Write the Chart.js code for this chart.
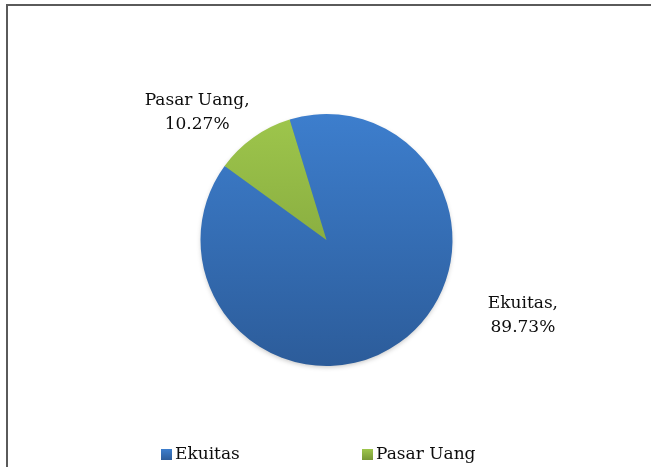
<!DOCTYPE html>
<html>
<head>
<meta charset="utf-8">
<script src="https://cdn.jsdelivr.net/npm/chart.js@4/dist/chart.umd.min.js"></script>
<style>
  html, body { margin: 0; padding: 0; background: #fff; }
  #wrap { position: relative; width: 651px; height: 467px; overflow: hidden; }
  #frame { position: absolute; left: 6px; top: 4px; width: 800px; height: 600px;
           border-left: 2px solid #5a5a5a; border-top: 2px solid #5a5a5a; }
  canvas { position: absolute; left: 0; top: 0; }
</style>
</head>
<body>
<div id="wrap">
  <div id="frame"></div>
  <canvas id="chart-pie" width="651" height="467"></canvas>
</div>
<script>
const categories = ["Ekuitas", "Pasar Uang"];
const shares = [89.73, 10.27];
const shareLabels = ["89.73%", "10.27%"];

// top / bottom colours of each slice gradient
const sliceTop = ["#3d7ecd", "#9ec64c"];
const sliceBottom = ["#2c5c9a", "#779836"];

const FONT = "17px 'DejaVu Serif', serif";
const TEXT = "#0d0d0d";

function sliceFill(ctx) {
    const chart = ctx.chart;
    const area = chart.chartArea;
    const i = ctx.dataIndex;
    if (!area) return sliceTop[i];
    const g = chart.ctx.createLinearGradient(0, area.top, 0, area.bottom);
    g.addColorStop(0, sliceTop[i]);
    g.addColorStop(1, sliceBottom[i]);
    return g;
}

// labels outside the slices: "Name," on line 1 and the percent on line 2
const sliceLabels = {
    id: "sliceLabels",
    afterDatasetsDraw(chart, args, opts) {
        const c = chart.ctx;
        const meta = chart.getDatasetMeta(0);
        c.save();
        c.font = FONT;
        c.fillStyle = TEXT;
        c.textAlign = "center";
        c.textBaseline = "middle";
        meta.data.forEach((arc, i) => {
            const mid = (arc.startAngle + arc.endAngle) / 2 + opts.shift[i] * Math.PI / 180;
            const d = arc.outerRadius * opts.dist[i];
            const x = arc.x + Math.cos(mid) * d;
            const y = arc.y + Math.sin(mid) * d;
            c.fillText(categories[i] + ",", x, y - 12);
            c.fillText(shareLabels[i], x, y + 12);
        });
        c.restore();
    }
};

// legend at the bottom, square markers
const bottomLegend = {
    id: "bottomLegend",
    afterDraw(chart, args, opts) {
        const c = chart.ctx;
        c.save();
        c.font = FONT;
        c.textBaseline = "middle";
        categories.forEach((name, i) => {
            const x = opts.x + i * opts.step;
            const g = c.createLinearGradient(0, opts.y - 5, 0, opts.y + 6);
            g.addColorStop(0, sliceTop[i]);
            g.addColorStop(1, sliceBottom[i]);
            c.fillStyle = g;
            c.fillRect(x, opts.y - 5, 11, 11);
            c.fillStyle = TEXT;
            c.fillText(name, x + 14, opts.y + 1);
        });
        c.restore();
    }
};

// faint shadow under the whole pie (drawn once, behind the slices)
const softShadow = {
    id: "softShadow",
    beforeDatasetsDraw(chart) {
        const arc = chart.getDatasetMeta(0).data[0];
        if (!arc) return;
        const c = chart.ctx;
        c.save();
        c.shadowColor = "rgba(0,0,0,0.25)";
        c.shadowBlur = 5;
        c.shadowOffsetY = 2;
        c.fillStyle = "#3a6fb5";
        c.beginPath();
        c.arc(arc.x, arc.y, arc.outerRadius - 1, 0, Math.PI * 2);
        c.fill();
        c.restore();
    }
};

const canvasPie = document.getElementById("chart-pie");
const chartPie = new Chart(canvasPie, {
    type: "pie",
    data: {
        labels: categories,
        datasets: [{
            data: shares,
            backgroundColor: sliceFill,
            borderWidth: 0,
        }],
    },
    options: {
        responsive: false,
        animation: false,
        rotation: -17,
        layout: { padding: { top: 114, bottom: 101, left: 199, right: 197 } },
        plugins: {
            legend: { display: false },
            tooltip: { enabled: false },
            sliceLabels: { shift: [-33.5, -10], dist: [1.67, 1.44] },
            bottomLegend: { x: 161, step: 201, y: 454 },
        },
    },
    plugins: [softShadow, sliceLabels, bottomLegend],
});
</script>
</body>
</html>
